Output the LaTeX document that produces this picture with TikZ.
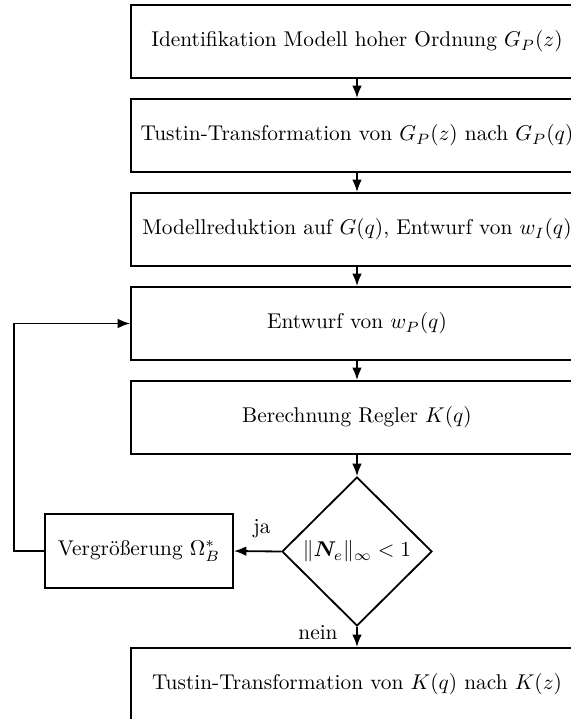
\documentclass[tikz,border=0pt]{standalone}
\usepackage{amsmath,bm}
\usetikzlibrary{shapes.geometric,arrows.meta}
\begin{document}
\begin{tikzpicture}[x=0.468pt,y=-0.468pt,
  line width=0.85pt,
  stepbox/.style={draw, minimum width=211.5pt, minimum height=34.2pt, inner sep=0pt},
  sidebox/.style={draw, minimum width=88pt, minimum height=34.6pt, inner sep=0pt},
  test/.style={draw, diamond, aspect=1, inner sep=0pt, minimum width=70.2pt, minimum height=69.7pt},
  arr/.style={-{Latex[length=5.8pt,width=4.5pt]}}]
  \useasboundingbox (0,0) rectangle (571,719);
  \clip (0,0) rectangle (571,719);

  % main chain of design steps
  \node[stepbox] (b1) at (357,41.5) {Identifikation Modell hoher Ordnung $G_P(z)$};
  \node[stepbox] (b2) at (357,135.5) {Tustin-Transformation von $G_P(z)$ nach $G_P(q)$};
  \node[stepbox] (b3) at (357,229.5) {Modellreduktion auf $G(q)$, Entwurf von $w_I(q)$};
  \node[stepbox] (b4) at (357,323.5) {Entwurf von $w_P(q)$};
  \node[stepbox] (b5) at (357,417.5) {Berechnung Regler $K(q)$};
  \node[test] (d) at (357,551.5) {$\|\bm{N}_e\|_\infty < 1$};
  \node[stepbox] (b6) at (357,684.5) {Tustin-Transformation von $K(q)$ nach $K(z)$};

  % enlargement step on the feedback path
  \node[sidebox] (lb) at (139,551) {Vergrößerung $\Omega_B^*$};
  \coordinate (fb) at (14,551);

  \draw[arr] (b1.south) -- (b2.north);
  \draw[arr] (b2.south) -- (b3.north);
  \draw[arr] (b3.south) -- (b4.north);
  \draw[arr] (b4.south) -- (b5.north);
  \draw[arr] (b5.south) -- (d.north);
  \draw[arr] (d.south) -- (b6.north);
  \draw[arr] (d.west) -- (lb.east);
  \draw[arr] (lb.west) -- (fb) |- (b4.west);

  \node (ja) at (262,529) {ja};
  \node (nein) at (318,633) {nein};
\end{tikzpicture}
\end{document}
